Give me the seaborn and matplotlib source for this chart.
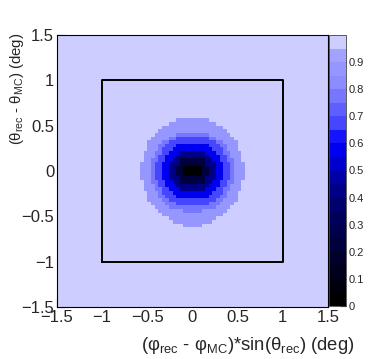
import numpy as np
import matplotlib
matplotlib.use("Agg")
import matplotlib.pyplot as plt
from matplotlib.colors import ListedColormap
from matplotlib.ticker import MultipleLocator
import seaborn as sns

sns.set_style("ticks")
plt.rcParams["font.family"] = ["Liberation Sans", "DejaVu Sans"]
plt.rcParams["mathtext.fontset"] = "custom"
plt.rcParams["mathtext.rm"] = "Liberation Sans"
plt.rcParams["mathtext.it"] = "Liberation Sans:italic"

# binning of the 2D histogram (deg)
n_bins = 75
edges = np.linspace(-1.5, 1.5, n_bins + 1)
centre_bin = 37

# bin content for each level code
level_value = {".": 0.965, "1": 0.87, "2": 0.77, "3": 0.68,
               "4": 0.58, "5": 0.42, "6": 0.22, "7": 0.03}

# left half (cols -14..0) of the central region, top row (+15) first
core_rows = [
    "...............",
    "..........11111",
    "........1111111",
    "......111111111",
    ".....1111111111",
    "....11111122222",
    "...111112233333",
    "..1111223333333",
    "..1112233344444",
    "..1112333444444",
    ".11122334445555",
    ".11123344455555",
    ".11223344556666",
    "111233445556666",
    "111233445566777",
    "111233445566777",
    "111233445566777",
    "111233445556666",
    ".11223344556666",
    ".11123344455555",
    ".11122334445555",
    "..1112333444444",
    "..1112233344444",
    "..1111223333333",
    "...111122233333",
    "....11112222222",
    ".....1111111222",
    "......111111111",
    "........1111111",
    ".........111111",
    "............111",
]

# axis ticks
tick_vals = [-1.5, -1, -0.5, 0, 0.5, 1, 1.5]
tick_labels = ["\u22121.5", "\u22121", "\u22120.5", "0", "0.5", "1", "1.5"]
cbar_ticks = [0, 0.1, 0.2, 0.3, 0.4, 0.5, 0.6, 0.7, 0.8, 0.9]
cbar_labels = ["0", "0.1", "0.2", "0.3", "0.4", "0.5", "0.6", "0.7", "0.8", "0.9"]

# signal window drawn on top
box_x = [-1, 1, 1, -1, -1]
box_y = [-1, -1, 1, 1, -1]

# fill the histogram
H = np.full((n_bins, n_bins), level_value["."])
half = len(core_rows) // 2
for k, row in enumerate(core_rows):
    assert len(row) == 15, (k, row)
    full = row + row[-2::-1]
    iy = centre_bin + half - k
    for c, ch in enumerate(full):
        H[iy, centre_bin - 14 + c] = level_value[ch]

centres = 0.5 * (edges[:-1] + edges[1:])
X, Y = np.meshgrid(centres, centres)

# ROOT-like palette: black -> blue -> pale lavender, 20 bands over 0..1
band_rgb = [
    (0, 0, 0), (0, 0, 12), (0, 0, 28), (0, 0, 42), (0, 0, 60),
    (0, 0, 75), (0, 0, 90), (0, 0, 110), (0, 0, 135), (0, 0, 165),
    (0, 0, 205), (0, 0, 240), (20, 20, 255), (70, 70, 255), (95, 95, 255),
    (118, 118, 255), (140, 140, 255), (150, 150, 255), (162, 162, 255), (205, 205, 255),
]
cmap = ListedColormap([(r / 255, g / 255, b / 255) for r, g, b in band_rgb])

fig = plt.figure(figsize=(3.74, 3.59), dpi=100)
ax = fig.add_axes([57 / 374, 1 - 307 / 359, 271 / 374, 272 / 359])
cax = fig.add_axes([329 / 374, 1 - 306 / 359, 17 / 374, 271 / 359])

edge_list = list(edges)
sns.histplot(x=X.ravel(), y=Y.ravel(), weights=H.ravel(), bins=[edge_list, edge_list],
             cmap=cmap, vmin=0, vmax=1, thresh=None, cbar=True, cbar_ax=cax, ax=ax)

ax.plot(box_x, box_y, color="black", lw=1.4)

ax.set_xlim(-1.5, 1.5)
ax.set_ylim(-1.5, 1.5)
ax.set_xticks(tick_vals)
ax.set_xticklabels(tick_labels)
ax.set_yticks(tick_vals)
ax.set_yticklabels(tick_labels)
ax.xaxis.set_minor_locator(MultipleLocator(0.1))
ax.yaxis.set_minor_locator(MultipleLocator(0.1))
ax.tick_params(which="both", direction="in", labelsize=12, pad=2,
               top=False, right=False, color="black")
ax.tick_params(which="major", length=6, width=0.8)
ax.tick_params(which="minor", length=3, width=0.8)
for s in ax.spines.values():
    s.set_color("black")
    s.set_linewidth(0.8)

ax.set_xlabel("(\u03c6$_{\\rm rec}$ - \u03c6$_{\\rm MC}$)*sin(\u03b8$_{\\rm rec}$) (deg)",
              fontsize=13.3, ha="right", va="center")
ax.xaxis.set_label_coords(1.10, -0.14)
ax.set_ylabel("(\u03b8$_{\\rm rec}$ - \u03b8$_{\\rm MC}$) (deg)",
              fontsize=10.8, ha="right", va="center")
ax.yaxis.set_label_coords(-0.148, 1.01)

cax.set_yticks(cbar_ticks)
cax.set_yticklabels(cbar_labels)
cax.tick_params(direction="in", length=4, width=0.8, labelsize=8, pad=2, color="black")
cax.minorticks_off()
cax.set_ylim(0, 1)
for s in cax.spines.values():
    s.set_linewidth(0.6)
    s.set_color("#444444")

fig.savefig("out.png", dpi=100, facecolor="white")
